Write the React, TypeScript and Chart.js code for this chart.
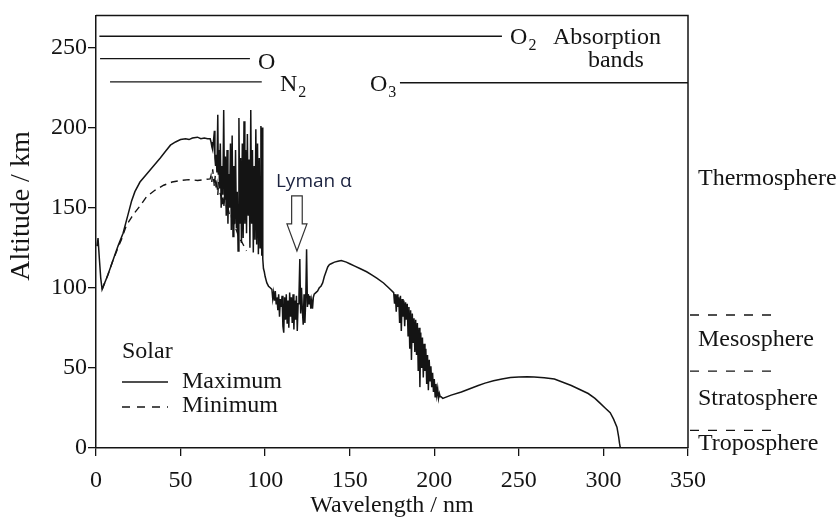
import React, { useEffect, useRef } from "react";
import { Chart, registerables } from "chart.js";

Chart.register(...registerables);

const SERIF = '"Liberation Serif", "Times New Roman", Times, serif';
const SANS = '"Open Sans", "Noto Sans", sans-serif';
const INK = "#141414";

// ---- data (wavelength nm, altitude km) ----
const solarMaximumLow: [number, number][] = [
  [0.6, 126], [1.2, 131], [2.0, 118], [2.8, 106], [3.6, 99], [7, 108], [10, 117], [13, 126], [16, 134],
  [19, 146], [21, 154], [23, 160], [26, 166], [30, 171], [34, 176], [38, 181], [41, 185], [44, 189],
  [47, 191], [50, 192.5], [53, 193], [55, 192.5], [57, 193.5], [60, 194], [62, 193], [64, 193.5],
  [66, 193], [67.5, 193],
];

const solarMaximumEuv: [number, number][] = [
  [68, 191], [68.5, 188], [69, 186], [69.5, 192], [70, 198], [70.3, 181], [70.7, 176], [71, 183],
  [71.5, 172], [72, 208], [72.3, 171], [72.7, 186], [73, 162], [73.5, 190], [74, 150], [74.5, 176],
  [75, 158], [75.5, 211], [76, 155], [76.5, 182], [77, 145], [77.5, 186], [78, 140], [78.5, 171],
  [79, 150], [79.5, 190], [80, 136], [80.5, 195], [81, 132], [81.5, 176], [82, 140], [82.5, 186],
  [83, 137], [83.5, 160], [84, 123], [84.5, 206], [85, 140], [85.5, 181], [86, 128], [86.5, 190],
  [87, 131], [87.5, 204], [88, 140], [88.5, 186], [89, 134], [89.5, 196], [90, 145], [90.5, 180],
  [91, 125], [91.5, 211], [92, 140], [92.5, 186], [93, 122], [93.5, 176], [94, 130], [94.5, 199],
  [95, 127], [95.5, 190], [96, 121], [96.5, 181], [97, 125], [97.5, 201], [98, 120], [98.3, 200],
  [98.6, 118], [99, 112], [99.5, 110], [100, 107],
];

const solarMaximumLyman: [number, number][] = [
  [101, 103], [102, 101], [103, 100], [104, 99], [104.5, 93], [105, 97], [105.5, 92], [106, 98],
  [106.5, 90], [107, 94], [107.5, 86], [108, 96], [108.5, 82], [109, 93], [109.5, 88], [110, 95],
  [110.5, 76], [111, 72], [111.5, 94], [112, 80], [112.5, 96], [113, 78], [113.5, 92], [114, 75],
  [114.5, 97], [115, 82], [115.5, 94], [116, 78], [116.5, 96], [117, 74], [117.5, 92], [118, 80],
  [118.5, 95], [119, 73], [119.5, 90], [120, 95], [120.5, 118], [121, 84], [121.5, 100], [122, 86],
  [122.5, 77], [123, 96], [123.5, 78], [124, 92], [124.5, 124], [125, 88], [125.5, 96], [126, 90],
  [126.5, 95], [127, 87], [127.5, 92], [128, 87], [128.5, 94], [129, 96], [130, 97], [131, 98],
  [132, 100], [133, 101], [134, 103], [135, 107], [136, 110], [137, 113], [138, 114.5], [139, 115],
  [141, 116], [143, 116.5], [145, 117], [148, 116], [150, 115], [153, 113.5], [156, 112], [160, 110],
  [163, 108], [166, 106], [170, 103], [173, 100], [176, 97],
];

const solarMaximumHartley: [number, number][] = [
  [176.5, 90], [177, 96], [177.5, 85], [178, 96], [178.5, 88], [179, 94], [179.5, 78], [180, 95],
  [180.5, 73], [181, 93], [181.5, 82], [182, 92], [182.5, 76], [183, 91], [183.5, 80], [184, 90],
  [184.5, 70], [185, 88], [185.5, 62], [186, 86], [186.5, 55], [187, 84], [187.5, 66], [188, 81],
  [188.5, 60], [189, 80], [189.5, 58], [190, 78], [190.5, 48], [191, 75], [191.5, 38], [192, 72],
  [192.5, 50], [193, 69], [193.5, 44], [194, 65], [194.5, 48], [195, 62], [195.5, 40], [196, 58],
  [196.5, 36], [197, 55], [197.5, 42], [198, 51], [198.5, 38], [199, 47], [199.5, 35], [200, 43],
  [200.5, 32], [201, 40], [201.5, 33], [202, 37], [202.5, 31], [203, 34], [203.5, 32], [204, 32],
];

const solarMaximumHuggins: [number, number][] = [
  [205, 31], [210, 33], [216, 35], [221, 37], [226, 39], [230, 40.5], [235, 42], [240, 43], [245, 44],
  [250, 44.3], [255, 44.5], [259, 44.3], [265, 43.8], [271, 43], [276, 41], [281, 39], [286, 36.5],
  [291, 34], [295, 31], [298, 28], [301, 25], [304, 22], [306, 18], [308, 13], [309, 7], [309.5, 3],
  [310, 0],
];

const solarMinimum: [number, number][] = [
  [3.6, 99], [7, 108], [10, 117], [13, 125], [15, 130], [18, 139], [21, 144], [23, 147], [26, 151],
  [30, 157], [35, 161], [40, 164], [45, 166], [50, 167], [55, 167.5], [60, 167], [64, 167.5],
  [67.5, 168], [68, 170], [68.5, 166], [69, 174], [69.5, 168], [70, 163], [70.5, 170], [71, 162],
  [71.5, 165], [72, 158], [72.5, 166], [73, 160], [74, 157], [74.5, 152], [75, 158], [75.5, 150],
  [76, 155], [77, 152], [77.5, 147], [78, 150], [79, 145], [80, 146], [80.5, 140], [81, 143],
  [82, 138], [83, 136], [84, 133], [85, 130], [86, 129], [87, 127], [88, 125], [89, 123],
];

const xTickValues = [0, 50, 100, 150, 200, 250, 300, 350];
const yTickValues = [0, 50, 100, 150, 200, 250];

// absorption bands
const bandBase = ["O", "O", "N", "O"];
const bandSub = ["2", "", "2", "3"];
const bandAltitude = [257, 243, 228.5, 228];
const bandStart = [2, 2.4, 8.3, 179.7];
const bandEnd = [240, 91, 98, 350];

// atmospheric layers
const layerNames = ["Thermosphere", "Mesosphere", "Stratosphere", "Troposphere"];
const layerLabelAltitude = [168, 67.5, 31, 2.5];
const layerBoundaries = [83, 48, 11];

const toPoints = (arr: [number, number][]) => arr.map(([x, y]) => ({ x, y }));

const solarMaximum = [
  ...solarMaximumLow,
  ...solarMaximumEuv,
  ...solarMaximumLyman,
  ...solarMaximumHartley,
  ...solarMaximumHuggins,
];

function font(size: number, family = SERIF) {
  return `${size}px ${family}`;
}

const decorations = {
  id: "decorations",
  afterDatasetsDraw(chart: any) {
    const { ctx, chartArea, scales } = chart;
    const xs = scales.x;
    const ys = scales.y;
    const { left, right, top, bottom } = chartArea;
    ctx.save();

    // frame top & right
    ctx.strokeStyle = INK;
    ctx.lineWidth = 1.5;
    ctx.beginPath();
    ctx.moveTo(left, top);
    ctx.lineTo(right, top);
    ctx.lineTo(right, bottom);
    ctx.stroke();

    // layer boundaries and names
    ctx.setLineDash([9, 9]);
    ctx.lineWidth = 1.3;
    layerBoundaries.forEach((alt) => {
      const y = ys.getPixelForValue(alt);
      ctx.beginPath();
      ctx.moveTo(right + 2, y);
      ctx.lineTo(right + 86, y);
      ctx.stroke();
    });
    ctx.setLineDash([]);
    ctx.fillStyle = INK;
    ctx.font = font(24);
    ctx.textAlign = "left";
    ctx.textBaseline = "middle";
    layerNames.forEach((name, i) => {
      ctx.fillText(name, right + 10, ys.getPixelForValue(layerLabelAltitude[i]));
    });

    // chemical labels for absorption bands
    const chem = (base: string, sub: string, x: number, y: number) => {
      ctx.font = font(24);
      ctx.textAlign = "left";
      ctx.textBaseline = "middle";
      ctx.fillText(base, x, y);
      const w = ctx.measureText(base).width;
      if (sub) {
        ctx.font = font(16);
        ctx.fillText(sub, x + w + 1, y + 8);
      }
    };
    const bandLabelX = [244.8, 95.8, 108.8, 162];
    const bandLabelAlt = [255.8, 240.5, 226.5, 226.5];
    bandBase.forEach((b, i) => {
      chem(b, bandSub[i], xs.getPixelForValue(bandLabelX[i]), ys.getPixelForValue(bandLabelAlt[i]));
    });
    ctx.font = font(24);
    ctx.textAlign = "left";
    ctx.fillText("Absorption", xs.getPixelForValue(270.2), ys.getPixelForValue(256));
    ctx.textAlign = "center";
    ctx.fillText("bands", xs.getPixelForValue(307.4), ys.getPixelForValue(241.5));

    // Lyman alpha arrow
    const tipX = xs.getPixelForValue(118.8);
    const tipY = ys.getPixelForValue(123);
    ctx.beginPath();
    ctx.moveTo(tipX, tipY);
    ctx.lineTo(tipX - 10, tipY - 27);
    ctx.lineTo(tipX - 5.3, tipY - 27);
    ctx.lineTo(tipX - 5.3, tipY - 55);
    ctx.lineTo(tipX + 5.3, tipY - 55);
    ctx.lineTo(tipX + 5.3, tipY - 27);
    ctx.lineTo(tipX + 10, tipY - 27);
    ctx.closePath();
    ctx.fillStyle = "#ffffff";
    ctx.fill();
    ctx.strokeStyle = "#333333";
    ctx.lineWidth = 1.2;
    ctx.stroke();
    ctx.fillStyle = "#1c2340";
    ctx.font = font(19, SANS);
    ctx.textAlign = "left";
    ctx.textBaseline = "middle";
    ctx.fillText("Lyman α", tipX - 21, tipY - 69);

    // legend
    ctx.fillStyle = INK;
    ctx.strokeStyle = INK;
    ctx.font = font(24);
    ctx.textAlign = "left";
    ctx.textBaseline = "middle";
    const lx = left + 26;
    ctx.fillText("Solar", lx, 352);
    ctx.lineWidth = 1.3;
    ctx.beginPath();
    ctx.moveTo(lx, 382);
    ctx.lineTo(lx + 46, 382);
    ctx.stroke();
    ctx.setLineDash([8, 7]);
    ctx.beginPath();
    ctx.moveTo(lx, 407);
    ctx.lineTo(lx + 46, 407);
    ctx.stroke();
    ctx.setLineDash([]);
    ctx.fillText("Maximum", lx + 60, 382);
    ctx.fillText("Minimum", lx + 60, 406);

    // y title
    ctx.save();
    ctx.translate(22, 206);
    ctx.rotate(-Math.PI / 2);
    ctx.textAlign = "center";
    ctx.textBaseline = "middle";
    ctx.font = font(28);
    ctx.fillText("Altitude / km", 0, 0);
    ctx.restore();

    ctx.restore();
  },
};

export default function App() {
  const ref = useRef<HTMLCanvasElement | null>(null);

  useEffect(() => {
    if (!ref.current) return;
    const lineBase = {
      showLine: true,
      pointRadius: 0,
      borderColor: INK,
      tension: 0,
      fill: false,
    };
    const bandSets = bandAltitude.map((alt, i) => ({
      ...lineBase,
      label: bandBase[i] + bandSub[i],
      data: [
        { x: bandStart[i], y: alt },
        { x: bandEnd[i], y: alt },
      ],
      borderWidth: 1.4,
    }));
    const chart = new Chart(ref.current, {
      type: "scatter",
      data: {
        datasets: [
          { ...lineBase, label: "Maximum", data: toPoints(solarMaximum), borderWidth: 1.5 },
          { ...lineBase, label: "Minimum", data: toPoints(solarMinimum), borderWidth: 1.4, borderDash: [7, 5] },
          ...bandSets,
        ] as any,
      },
      options: {
        responsive: false,
        animation: false,
        events: [],
        layout: { padding: { top: 12, right: 152, left: 0, bottom: 0 } },
        plugins: { legend: { display: false }, tooltip: { enabled: false } },
        scales: {
          x: {
            type: "linear",
            min: 0,
            max: 350,
            afterBuildTicks: (s: any) => {
              s.ticks = xTickValues.map((v) => ({ value: v }));
            },
            ticks: { font: { family: SERIF, size: 24 }, color: INK, padding: 10, maxRotation: 0, autoSkip: false },
            grid: { drawOnChartArea: false, tickLength: 8, color: INK, lineWidth: 1.3 },
            border: { color: INK, width: 1.5 },
            title: {
              display: true,
              text: "Wavelength / nm",
              font: { family: SERIF, size: 24 },
              color: INK,
              padding: { top: 0, bottom: 0 },
            },
            afterFit: (s: any) => {
              s.height = 72;
            },
          },
          y: {
            type: "linear",
            min: 0,
            max: 270,
            afterBuildTicks: (s: any) => {
              s.ticks = yTickValues.map((v) => ({ value: v }));
            },
            ticks: { font: { family: SERIF, size: 24 }, color: INK, padding: 1, autoSkip: false },
            grid: { drawOnChartArea: false, tickLength: 8, color: INK, lineWidth: 1.3 },
            border: { color: INK, width: 1.5 },
            afterFit: (s: any) => {
              s.width = 96;
            },
          },
        },
      } as any,
      plugins: [decorations],
    });
    return () => chart.destroy();
  }, []);

  return (
    <div style={{ position: "fixed", left: 0, top: 0, width: 840, height: 520, background: "#fff" }}>
      <canvas ref={ref} width={840} height={520} style={{ display: "block" }} />
    </div>
  );
}
